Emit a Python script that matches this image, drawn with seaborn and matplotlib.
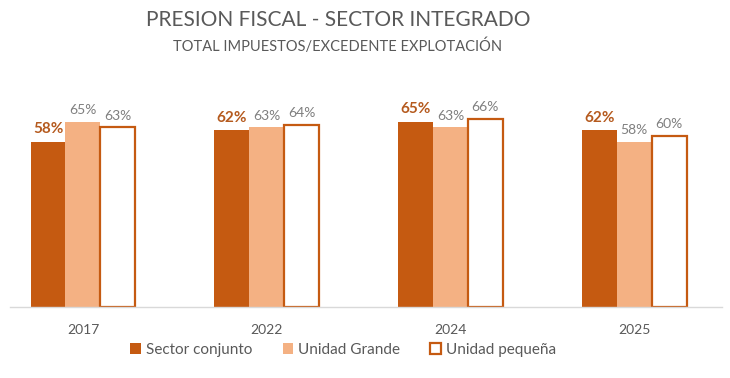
import matplotlib
matplotlib.use("Agg")
import matplotlib.pyplot as plt
import pandas as pd
import seaborn as sns
from matplotlib.patches import Patch

years = ["2017", "2022", "2024", "2025"]
series = ["Sector conjunto", "Unidad Grande", "Unidad pequeña"]
sector_conjunto = [0.58, 0.62, 0.65, 0.62]
unidad_grande = [0.65, 0.63, 0.63, 0.58]
unidad_pequena = [0.63, 0.64, 0.66, 0.60]

DARK = "#C55A11"
LIGHT = "#F4B183"
GRAY = "#595959"
LABEL_GRAY = "#7F7F7F"

df = pd.DataFrame({
    "year": years * 3,
    "serie": [s for s in series for _ in years],
    "value": sector_conjunto + unidad_grande + unidad_pequena,
})

sns.set_style("white")
plt.rcParams["font.family"] = ["Lato", "DejaVu Sans"]

fig = plt.figure(figsize=(7.3, 3.78), dpi=100)
ax = fig.add_axes([10 / 730, 71 / 378, 712 / 730, 285 / 378])

sns.barplot(
    data=df, x="year", y="value", hue="serie", order=years, hue_order=series,
    palette=[DARK, LIGHT, "white"], width=0.57, gap=0, ax=ax, legend=False,
    saturation=1,
)

# style the three series, then label each bar
for i, cont in enumerate(ax.containers):
    for rect, val in zip(cont.patches, [sector_conjunto, unidad_grande, unidad_pequena][i]):
        if i == 2:
            rect.set_facecolor("white")
            rect.set_edgecolor(DARK)
            rect.set_linewidth(1.6)
        else:
            rect.set_edgecolor("none")
        x = rect.get_x() + rect.get_width() / 2
        if i == 0:
            ax.annotate(f"{val:.0%}", (x, val), xytext=(0, 4), textcoords="offset points",
                        ha="center", va="bottom", fontsize=11, fontweight="bold",
                        color="#B55A1E")
        else:
            ax.annotate(f"{val:.0%}", (x, val), xytext=(0, 4), textcoords="offset points",
                        ha="center", va="bottom", fontsize=10, color=LABEL_GRAY)

ax.set_xlim(-0.397, 3.478)
ax.set_ylim(0, 1.0)
ax.set_xlabel("")
ax.set_ylabel("")
ax.set_yticks([])
ax.tick_params(axis="x", length=0, labelsize=10, labelcolor=GRAY, pad=12)
for side in ["top", "left", "right"]:
    ax.spines[side].set_visible(False)
ax.spines["bottom"].set_color("#D9D9D9")
ax.spines["bottom"].set_linewidth(1)

fig.text(0.463, 0.947, "PRESION FISCAL - SECTOR INTEGRADO", ha="center", va="center",
         fontsize=15, color=GRAY)
fig.text(0.462, 0.878, "TOTAL IMPUESTOS/EXCEDENTE EXPLOTACIÓN", ha="center", va="center",
         fontsize=10.5, color=GRAY)

handles = [
    Patch(facecolor=DARK, edgecolor="none"),
    Patch(facecolor=LIGHT, edgecolor="none"),
    Patch(facecolor="white", edgecolor=DARK, linewidth=1.6),
]
fig.legend(handles, series, loc="center", bbox_to_anchor=(0.47, 0.074), ncol=3,
           frameon=False, fontsize=11, labelcolor=GRAY, handlelength=0.7,
           handleheight=0.7, handletextpad=0.3, columnspacing=2.0)

fig.savefig("out.png", dpi=100, facecolor="white")
plt.close(fig)
